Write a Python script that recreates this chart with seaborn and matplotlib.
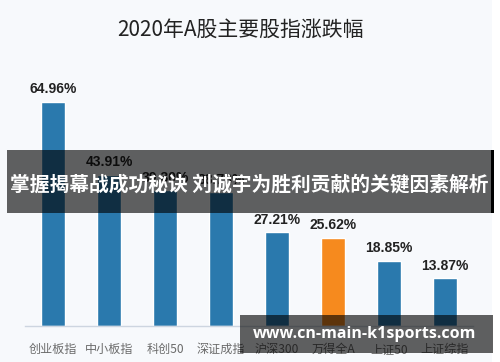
import matplotlib
matplotlib.use("Agg")
import matplotlib.pyplot as plt
import matplotlib.patches as mpatches
import seaborn as sns

# datos
indices = ['创业板指', '中小板指', '科创50', '深证成指', '沪深300', '万得全A', '上证50', '上证综指']
valores = [64.96, 43.91, 39.30, 38.73, 27.21, 25.62, 18.85, 13.87]
colores = ['#2a79ad', '#2a79ad', '#2a79ad', '#2a79ad', '#2a79ad', '#f68a1e', '#2a79ad', '#2a79ad']

titulo = '2020年A股主要股指涨跌幅'
banner = '掌握揭幕战成功秘诀 刘诚宇为胜利贡献的关键因素解析'
marca = 'www.cn-main-k1sports.com'

sns.set_theme(style='white')
plt.rcParams['font.family'] = ['Noto Sans CJK SC', 'DejaVu Sans']

fondo = '#f7f9fc'
fig = plt.figure(figsize=(5, 3.62), dpi=100, facecolor='white')
fig.add_artist(mpatches.Rectangle((0, 0), 492 / 500, 1, transform=fig.transFigure,
                                  facecolor=fondo, edgecolor='none', zorder=-1))

ax = fig.add_axes([0.05, 36 / 362, 0.896, 276 / 362])
ax.set_facecolor('none')
sns.barplot(x=indices, y=valores, hue=indices, palette=colores, legend=False,
            width=0.43, saturation=1, ax=ax)
ax.set_xlim(-0.5, 7.5)
ax.set_ylim(0, 80)

for i, cont in enumerate(ax.containers):
    ax.bar_label(cont, labels=[f'{valores[i]:.2f}%'], padding=4, fontsize=10,
                 fontweight='bold', color='#222222', family=['Liberation Sans', 'DejaVu Sans'])

for lado in ['top', 'right', 'left']:
    ax.spines[lado].set_visible(False)
ax.spines['bottom'].set_color('#cdd5e0')
ax.spines['bottom'].set_linewidth(1)
ax.set_yticks([])
ax.set_xlabel('')
ax.set_ylabel('')
ax.tick_params(axis='x', length=0, pad=12, labelsize=8.7, labelcolor='#6b6b6b')

fig.text(240 / 500, 1 - 30 / 362, titulo, ha='center', va='center', fontsize=15, color='#222222')

# banda oscura encima
fig.add_artist(mpatches.Rectangle((7 / 500, 1 - 213 / 362), 485 / 500, 63 / 362,
                                  transform=fig.transFigure, facecolor='black', alpha=0.62,
                                  edgecolor='none', zorder=5))
fig.add_artist(mpatches.Rectangle((491 / 500, 1 - 213 / 362), 2.5 / 500, 63 / 362,
                                  transform=fig.transFigure, facecolor='black',
                                  edgecolor='none', zorder=5))
fig.text(249 / 500, 1 - 184 / 362, banner, ha='center', va='center', fontsize=14.2,
         fontweight='bold', color='white', zorder=6)

# marca de agua
fig.add_artist(mpatches.Rectangle((240 / 500, 1 - 353 / 362), 253 / 500, 38 / 362,
                                  transform=fig.transFigure, facecolor='black', alpha=0.62,
                                  edgecolor='none', zorder=5))
fig.text(365 / 500, 1 - 334 / 362, marca, ha='center', va='center', fontsize=11.5,
         fontweight='bold', color='white', family=['Open Sans', 'DejaVu Sans'], zorder=6)

fig.savefig('out.png', dpi=100, facecolor=fig.get_facecolor())
